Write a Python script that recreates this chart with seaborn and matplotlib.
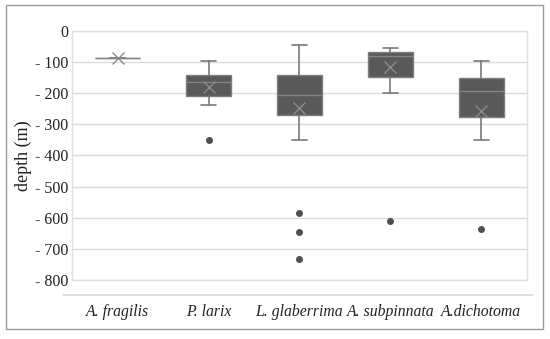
import matplotlib
matplotlib.use("Agg")
import matplotlib.pyplot as plt
import matplotlib.patches as mpatches
from matplotlib.ticker import FuncFormatter, MultipleLocator
import seaborn as sns

species = ["A. fragilis", "P. larix", "L. glaberrima", "A. subpinnata", "A.dichotoma"]
whis_hi = [-87, -96, -45, -54, -96]
q3 = [-87, -142, -142, -67, -150]
median = [-87, -163, -207, -80, -194]
q1 = [-87, -209, -270, -147, -276]
whis_lo = [-87, -238, -350, -200, -350]
means = [-87, -181, -247, -115, -256]
outliers = [[], [-350], [-586, -646, -732], [-612], [-637]]

sns.set_style("white")
plt.rcParams["font.family"] = ["Liberation Serif", "DejaVu Serif"]

stats = []
for i, name in enumerate(species):
    stats.append({"label": name, "whislo": whis_lo[i], "q1": q1[i], "med": median[i],
                  "q3": q3[i], "whishi": whis_hi[i], "mean": means[i], "fliers": outliers[i]})

fig = plt.figure(figsize=(5.5, 3.39), dpi=100)
ax = fig.add_axes([0.131, 0.174, 0.827, 0.735])

line_c = "#7a7a7a"
ax.bxp(stats, positions=range(len(species)), widths=0.5, capwidths=0.16,
       showmeans=True, patch_artist=True,
       boxprops=dict(facecolor="#595959", edgecolor="#7f7f7f", linewidth=1),
       medianprops=dict(color="#858585", linewidth=1),
       whiskerprops=dict(color=line_c, linewidth=1.2),
       capprops=dict(color=line_c, linewidth=1.2),
       meanprops=dict(marker="x", markeredgecolor="#8c8c8c", markersize=9, markeredgewidth=1),
       flierprops=dict(marker="o", markerfacecolor="#505050", markeredgecolor="#505050", markersize=4))

ax.set_ylim(-800, 0)
ax.set_xlim(-0.5, len(species) - 0.5)
ax.yaxis.set_major_locator(MultipleLocator(100))
ax.yaxis.set_major_formatter(FuncFormatter(lambda v, p: "0" if v == 0 else "- %d" % abs(v)))
ax.yaxis.grid(True, color="#dcdcdc", linewidth=1)
ax.set_axisbelow(True)
for s in ax.spines.values():
    s.set_color("#e0e0e0")
    s.set_linewidth(1)
ax.tick_params(length=0, labelsize=11.5, colors="#222222")
ax.tick_params(axis="y", pad=3)
ax.tick_params(axis="x", pad=17, labelsize=11.3)
for t in ax.get_xticklabels():
    t.set_style("italic")
ax.set_ylabel("depth (m)", fontsize=13, color="#222222", labelpad=2)

ax.plot([-0.02, 1.013], [-0.06, -0.06], transform=ax.transAxes, color="#d9d9d9",
        linewidth=1.2, clip_on=False)

fig.patches.append(mpatches.Rectangle((6 / 550, 10 / 339), 537 / 550, 324 / 339,
                                      transform=fig.transFigure, fill=False,
                                      edgecolor="#9a9a9a", linewidth=1))

fig.savefig("out.png", dpi=100)
